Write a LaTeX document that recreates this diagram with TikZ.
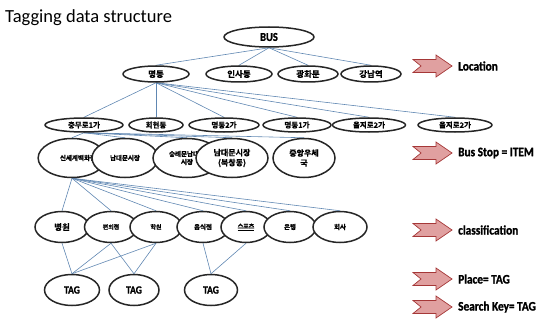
\documentclass[tikz,border=0pt]{standalone}
\usepackage{fontspec}
\usetikzlibrary{shapes.geometric, backgrounds}
\setmainfont{Carlito}
\newfontfamily\kr{Noto Sans CJK KR}[BoldFont={* Bold}, BoldFeatures={FakeBold=0.8}]
\newfontfamily\legendfont{Carlito}[FakeStretch=0.87, BoldFeatures={FakeBold=1.2}]
\definecolor{edgeblue}{RGB}{96,135,178}
\definecolor{arrowpink}{RGB}{224,160,160}
\definecolor{arrowred}{RGB}{165,55,55}

\begin{document}
\begin{tikzpicture}[x=1pt, y=-1pt,
    every node/.style={font=\kr\bfseries\fontsize{7.5}{8.5}\selectfont},
    place/.style={ellipse, draw=black!85, fill=white, line width=1.5pt, inner sep=0pt},
    link/.style={draw=edgeblue, line width=0.6pt},
    pointer/.style={fill=arrowpink, draw=arrowred, line width=0.7pt},
    legend/.style={anchor=west, inner sep=0pt, font=\legendfont\bfseries\fontsize{13}{15}\selectfont},
    notched/.pic={\draw[pointer] (0,-6.5) -- (23,-6.5) -- (23,-11) -- (39,0) -- (23,11) -- (23,6.5) -- (0,6.5) -- (8,0) -- cycle;}]

    \useasboundingbox (0,0) rectangle (543,326);

    % Titel
    \node[anchor=west, inner sep=0pt, font=\fontsize{18.5}{21}\selectfont] (title) at (5,18) {Tagging data structure};

    % Wurzel
    \node[place, minimum width=90, minimum height=20, font=\legendfont\bfseries\fontsize{12}{13}\selectfont] (bus) at (269,37) {BUS};

    % Ebene Location
    \node[place, minimum width=66, minimum height=16, font=\kr\bfseries\fontsize{8.5}{9}\selectfont] (myeongdong) at (156,74) {명동};
    \node[place, minimum width=66, minimum height=16, font=\kr\bfseries\fontsize{8.5}{9}\selectfont] (insadong) at (239,74) {인사동};
    \node[place, minimum width=60, minimum height=16, font=\kr\bfseries\fontsize{8.5}{9}\selectfont] (gwanghwamun) at (308,74) {광화문};
    \node[place, minimum width=60, minimum height=16, font=\kr\bfseries\fontsize{8.5}{9}\selectfont] (gangnam) at (371,74) {강남역};

    % Ebene Stadtteil
    \node[place, minimum width=78, minimum height=14] (chungmuro) at (84,125) {충무로1가};
    \node[place, minimum width=54, minimum height=14] (hoehyeon) at (156,125) {회현동};
    \node[place, minimum width=70, minimum height=14] (myeongdongB) at (224,125) {명동2가};
    \node[place, minimum width=68, minimum height=14] (myeongdongA) at (297,125) {명동1가};
    \node[place, minimum width=73, minimum height=14] (euljiroA) at (369,125) {을지로2가};
    \node[place, minimum width=74, minimum height=14] (euljiroB) at (455,125) {을지로2가};

    % Ebene Bus Stop
    \node[place, minimum width=66, minimum height=39, font=\kr\bfseries\fontsize{6.5}{7}\selectfont] (shinsegae) at (72,158) {\hspace*{12pt}신세계백화점};
    \node[place, minimum width=66, minimum height=39, font=\kr\bfseries\fontsize{6.5}{7}\selectfont] (namdaemun) at (125,158) {남대문시장};
    \node[place, minimum width=68, minimum height=39, align=center, font=\kr\bfseries\fontsize{6.5}{8}\selectfont] (sungnyemun) at (187,158) {숭례문남대문\\시장};
    \node[place, minimum width=72, minimum height=39, align=center, font=\kr\bfseries\fontsize{8}{10}\selectfont] (bukchang) at (232,158) {남대문시장\\(북창동)};
    \node[place, minimum width=62, minimum height=39, align=center, font=\kr\bfseries\fontsize{8}{10}\selectfont] (post) at (304,158) {중앙우체\\국};

    % Ebene classification
    \node[place, minimum width=54, minimum height=31, font=\kr\bfseries\fontsize{8.5}{9}\selectfont] (hospital) at (62,227) {병원};
    \node[place, minimum width=53, minimum height=31, font=\kr\bfseries\fontsize{6}{7}\selectfont] (store) at (111,227) {편의점};
    \node[place, minimum width=52, minimum height=31, font=\kr\bfseries\fontsize{6}{7}\selectfont] (academy) at (156,227) {학원};
    \node[place, minimum width=52, minimum height=31, font=\kr\bfseries\fontsize{6.5}{7}\selectfont] (restaurant) at (203,227) {음식점};
    \node[place, minimum width=50, minimum height=31, font=\kr\bfseries\fontsize{6}{7}\selectfont] (sports) at (246,227) {\underline{스포츠}};
    \node[place, minimum width=52, minimum height=31, font=\kr\bfseries\fontsize{6.5}{7}\selectfont] (bank) at (290,227) {은행};
    \node[place, minimum width=54, minimum height=31, font=\kr\bfseries\fontsize{6.5}{7}\selectfont] (company) at (340,227) {회사};

    % TAG
    \node[place, minimum width=55, minimum height=31, font=\legendfont\bfseries\fontsize{11}{12}\selectfont] (tagA) at (72,290) {TAG};
    \node[place, minimum width=50, minimum height=31, font=\legendfont\bfseries\fontsize{11}{12}\selectfont] (tagB) at (134,290) {TAG};
    \node[place, minimum width=53, minimum height=31, font=\legendfont\bfseries\fontsize{11}{12}\selectfont] (tagC) at (211,290) {TAG};

    % Verbindungen
    \begin{scope}[on background layer]
        \draw[link] (bus.south) -- (myeongdong.north);
        \draw[link] (bus.south) -- (insadong.north);
        \draw[link] (bus.south) -- (gwanghwamun.north);
        \draw[link] (bus.south) -- (gangnam.north);

        \draw[link] (myeongdong.south) -- (chungmuro.north);
        \draw[link] (myeongdong.south) -- (hoehyeon.north);
        \draw[link] (myeongdong.south) -- (myeongdongB.north);
        \draw[link] (myeongdong.south) -- (myeongdongA.north);
        \draw[link] (myeongdong.south) -- (euljiroA.north);
        \draw[link] (myeongdong.south) -- (euljiroB.north);

        \draw[link] (chungmuro.south) -- (shinsegae.north);
        \draw[link] (chungmuro.south) -- (namdaemun.north);
        \draw[link] (chungmuro.south) -- (sungnyemun.north);
        \draw[link] (chungmuro.south) -- (bukchang.north);
        \draw[link] (chungmuro.south) -- (post.north);

        \draw[link] (shinsegae.south) -- (hospital.north);
        \draw[link] (shinsegae.south) -- (store.north);
        \draw[link] (shinsegae.south) -- (academy.north);
        \draw[link] (shinsegae.south) -- (restaurant.north);
        \draw[link] (shinsegae.south) -- (sports.north);
        \draw[link] (shinsegae.south) -- (bank.north);
        \draw[link] (shinsegae.south) -- (company.north);

        \draw[link] (hospital.south) -- (tagA.north);
        \draw[link] (store.south) -- (tagA.north);
        \draw[link] (academy.south) -- (tagA.north);
        \draw[link] (store.south) -- (tagB.north);
        \draw[link] (academy.south) -- (tagB.north);
        \draw[link] (restaurant.south) -- (tagC.north);
        \draw[link] (sports.south) -- (tagC.north);
    \end{scope}

    % Pfeile und Legende
    \pic at (413,66) {notched};
    \node[legend] (location) at (458,66) {Location};
    \pic at (413,153) {notched};
    \node[legend] (busstop) at (458,153) {Bus Stop = ITEM};
    \pic at (413,230) {notched};
    \node[legend] (classification) at (458,230) {classification};
    \pic at (413,279) {notched};
    \node[legend] (placetag) at (458,279) {Place= TAG};
    \pic at (413,307) {notched};
    \node[legend] (searchkey) at (458,307) {Search Key= TAG};

\end{tikzpicture}
\end{document}
